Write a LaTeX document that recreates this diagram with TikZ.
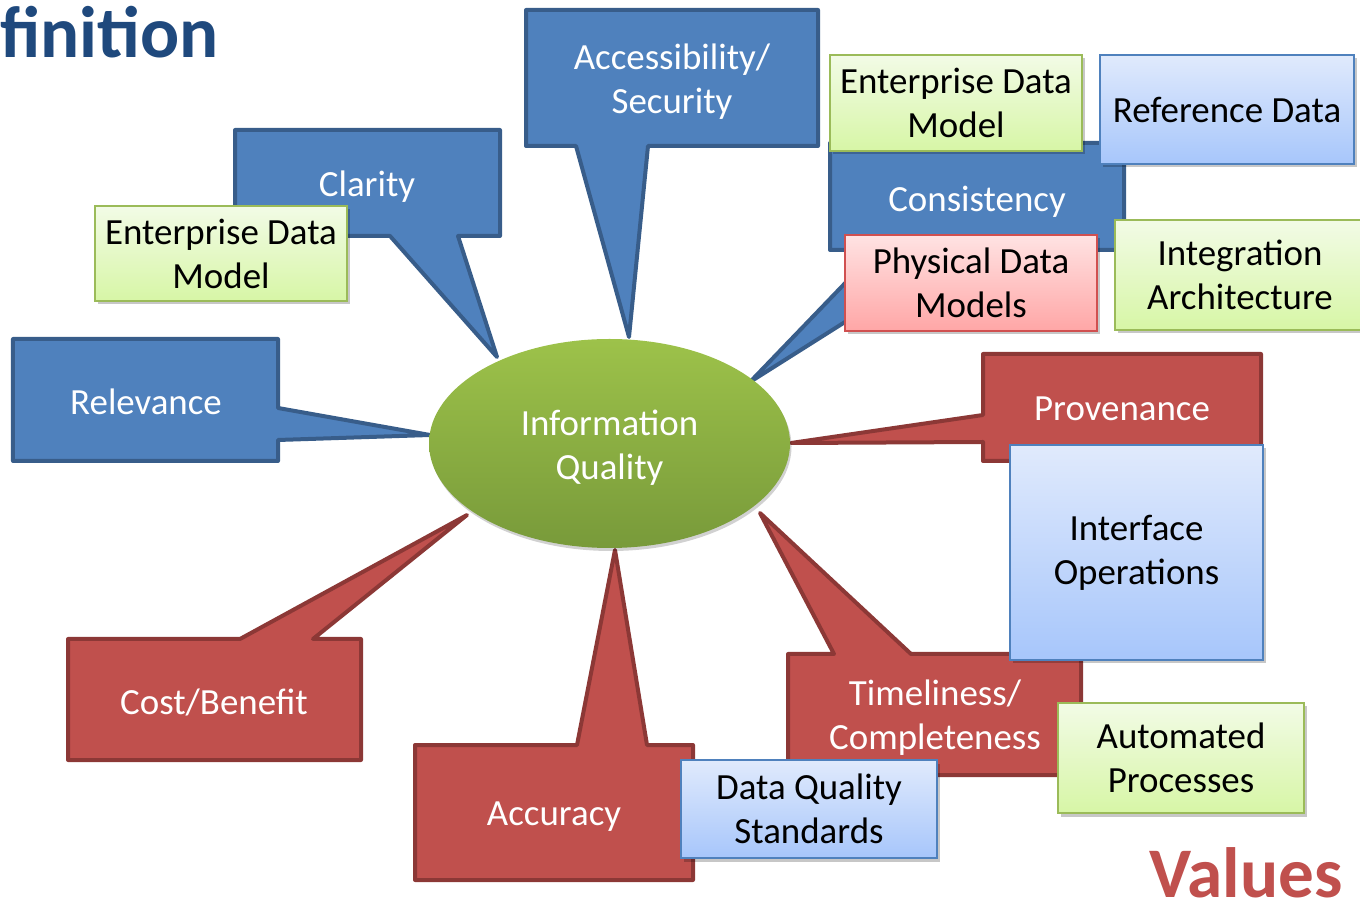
\documentclass[tikz,border=0pt]{standalone}
\usepackage{fontspec}
\setmainfont{Carlito}
\usetikzlibrary{shapes.geometric, shadows}

\begin{document}
\begin{tikzpicture}[
    calltext/.style={font=\fontsize{21}{25}\selectfont, text=white, align=center},
    bluecall/.style={line width=0.08cm, line join=round, fill=color101, draw=color102},
    redcall/.style={line width=0.08cm, line join=round, fill=color201, draw=color202},
    notebox/.style={line width=0.04cm, inner sep=0pt, align=center, text=black,
        font=\fontsize{21}{25}\selectfont,
        drop shadow={shadow xshift=0.05cm, shadow yshift=-0.07cm, fill=black, opacity=0.22}},
    greennote/.style={notebox, top color=color401, bottom color=color402, draw=color403},
    bluenote/.style={notebox, top color=color501, bottom color=color502, draw=color101},
    pinknote/.style={notebox, top color=color601, bottom color=color602, draw=color603}]
    \definecolor{color101}{rgb}{0.3098,0.5059,0.7412}
    \definecolor{color102}{rgb}{0.2196,0.3647,0.5412}
    \definecolor{color201}{rgb}{0.7529,0.3137,0.3020}
    \definecolor{color202}{rgb}{0.5490,0.2196,0.2118}
    \definecolor{color301}{rgb}{0.6157,0.7608,0.2902}
    \definecolor{color302}{rgb}{0.4706,0.6039,0.2275}
    \definecolor{color401}{rgb}{0.9490,0.9843,0.9020}
    \definecolor{color402}{rgb}{0.8431,0.9647,0.6510}
    \definecolor{color403}{rgb}{0.6078,0.7333,0.3490}
    \definecolor{color501}{rgb}{0.8784,0.9176,0.9882}
    \definecolor{color502}{rgb}{0.6549,0.7765,0.9843}
    \definecolor{color601}{rgb}{1.0000,0.8902,0.8902}
    \definecolor{color602}{rgb}{1.0000,0.6510,0.6510}
    \definecolor{color603}{rgb}{0.8157,0.3137,0.3137}
    \definecolor{color701}{rgb}{0.1216,0.2863,0.4902}
    \useasboundingbox (0, 0) rectangle (27.2, 18.1);
    % Tail tips on the ellipse
    \coordinate (tipRel) at (8.60, 9.40);
    \coordinate (tipCla) at (9.94, 10.96);
    \coordinate (tipAcc) at (12.58, 11.36);
    \coordinate (tipCon) at (15.00, 10.46);
    \coordinate (tipPro) at (15.82, 9.24);
    \coordinate (tipTim) at (15.20, 7.84);
    \coordinate (tipAcu) at (12.30, 7.10);
    \coordinate (tipCos) at (9.34, 7.80);
    % Blue callouts
    \draw[bluecall] (0.26, 11.32) -- (5.56, 11.32) -- (5.56, 9.94) -- (tipRel) -- (5.56, 9.30) -- (5.56, 8.88) -- (0.26, 8.88) -- cycle;
    \draw[bluecall] (4.70, 15.50) -- (10.00, 15.50) -- (10.00, 13.38) -- (9.16, 13.38) -- (tipCla) -- (7.80, 13.38) -- (4.70, 13.38) -- cycle;
    \draw[bluecall] (10.52, 17.90) -- (16.36, 17.90) -- (16.36, 15.18) -- (12.96, 15.18) -- (tipAcc) -- (11.52, 15.18) -- (10.52, 15.18) -- cycle;
    \draw[bluecall] (16.60, 15.24) -- (22.48, 15.24) -- (22.48, 13.10) -- (19.18, 13.10) -- (tipCon) -- (17.54, 13.10) -- (16.60, 13.10) -- cycle;
    \node[calltext] (relevance) at (2.92, 10.06) {Relevance};
    \node[calltext] (clarity) at (7.34, 14.36) {Clarity};
    \node[calltext] (access) at (13.44, 16.46) {Accessibility/\\Security};
    \node[calltext] (consistency) at (19.54, 14.06) {Consistency};
    % Red callouts
    \draw[redcall] (19.66, 11.02) -- (25.22, 11.02) -- (25.22, 8.88) -- (19.66, 8.88) -- (19.66, 9.26) -- (tipPro) -- (19.66, 9.80) -- cycle;
    \draw[redcall] (15.76, 5.02) -- (16.68, 5.02) -- (tipTim) -- (18.22, 5.02) -- (21.62, 5.02) -- (21.62, 2.60) -- (15.76, 2.60) -- cycle;
    \draw[redcall] (8.30, 3.20) -- (11.54, 3.20) -- (tipAcu) -- (12.94, 3.20) -- (13.86, 3.20) -- (13.86, 0.50) -- (8.30, 0.50) -- cycle;
    \draw[redcall] (1.36, 5.32) -- (4.80, 5.32) -- (tipCos) -- (6.26, 5.32) -- (7.22, 5.32) -- (7.22, 2.90) -- (1.36, 2.90) -- cycle;
    \node[calltext] (provenance) at (22.44, 9.92) {Provenance};
    \node[calltext] (timeliness) at (18.70, 3.74) {Timeliness/\\Completeness};
    \node[calltext] (accuracy) at (11.08, 1.76) {Accuracy};
    \node[calltext] (costbenefit) at (4.28, 4.06) {Cost/Benefit};
    % Centre ellipse
    \node[ellipse, minimum width=7.22cm, minimum height=4.18cm, inner sep=0pt,
        top color=color301, bottom color=color302,
        drop shadow={shadow xshift=0.03cm, shadow yshift=-0.06cm, fill=black, opacity=0.18}]
        (iq) at (12.19, 9.23) {};
    \node[calltext] (iqlabel) at (12.19, 9.14) {Information\\Quality};
    % Side notes
    \node[greennote, minimum width=5.04cm, minimum height=1.90cm] (edmleft) at (4.42, 13.03) {Enterprise Data\\Model};
    \node[greennote, minimum width=5.04cm, minimum height=1.92cm] (edmright) at (19.12, 16.04) {Enterprise Data\\Model};
    \node[bluenote, minimum width=5.08cm, minimum height=2.18cm] (refdata) at (24.54, 15.91) {Reference Data};
    \node[pinknote, minimum width=5.04cm, minimum height=1.92cm] (physical) at (19.42, 12.44) {Physical Data\\Models};
    \node[greennote, minimum width=5.00cm, minimum height=2.20cm] (integration) at (24.80, 12.60) {Integration\\Architecture};
    \node[bluenote, minimum width=5.06cm, minimum height=4.30cm] (interface) at (22.73, 7.05) {Interface\\Operations};
    \node[greennote, minimum width=4.92cm, minimum height=2.20cm] (automated) at (23.62, 2.94) {Automated\\Processes};
    \node[bluenote, minimum width=5.12cm, minimum height=1.96cm] (dqstandards) at (16.18, 1.92) {Data Quality\\Standards};
    % Headings
    \node[anchor=base west, inner sep=0pt, text=color701, font=\fontsize{41.5}{48}\selectfont\bfseries] (title) at (0.00, 16.94) {finition};
    \node[anchor=base east, inner sep=0pt, text=color201, font=\fontsize{40.5}{47}\selectfont\bfseries] (values) at (26.86, 0.16) {Values};
\end{tikzpicture}
\end{document}
